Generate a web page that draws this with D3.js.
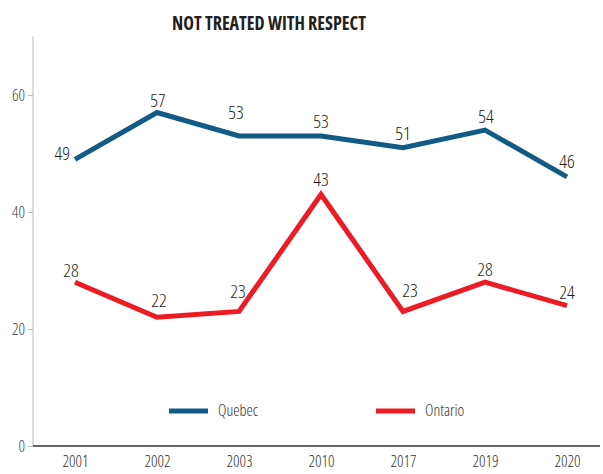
<!DOCTYPE html>
<html>
<head>
<meta charset="utf-8">
<script src="https://cdn.jsdelivr.net/npm/d3@7"></script>
<style>
  body { margin: 0; background: #fff; }
  svg text { font-family: "Open Sans", sans-serif; font-stretch: 75%; }
</style>
</head>
<body>
<div id="chart"></div>
<script>
const years = ["2001", "2002", "2003", "2010", "2017", "2019", "2020"];
const quebec = [49, 57, 53, 53, 51, 54, 46];
const ontario = [28, 22, 23, 43, 23, 28, 24];
const yTicks = [0, 20, 40, 60];

// label nudges (layout only), keyed by series + index
const nudges = {
    "q0": { dx: -5, dy: 1, anchor: "end" },
    "q1": { dx: 1, dy: -6 },
    "q2": { dx: -3, dy: -17 },
    "q3": { dx: 0, dy: -8 },
    "q4": { dx: 0, dy: -8 },
    "q5": { dx: 1, dy: -7 },
    "q6": { dx: 0, dy: -9 },
    "o0": { dx: -4, dy: -5 },
    "o1": { dx: 2, dy: -10 },
    "o2": { dx: -1, dy: -13 },
    "o3": { dx: 0, dy: -8 },
    "o4": { dx: 7, dy: -14 },
    "o5": { dx: 0, dy: -6 },
    "o6": { dx: 0, dy: -7 }
};

const width = 603;
const height = 474;

const svg = d3.select("#chart").append("svg")
              .attr("width", width)
              .attr("height", height);

const x = d3.scalePoint()
            .domain(years)
            .range([75, 567]);

const y = d3.scaleLinear()
            .domain([0, 70])
            .range([446, 36.5]);

// title
svg.append("text")
   .attr("x", 269)
   .attr("y", 30)
   .attr("text-anchor", "middle")
   .attr("font-size", 20)
   .attr("font-weight", "bold")
   .attr("fill", "#231f20")
   .attr("textLength", 194)
   .attr("lengthAdjust", "spacingAndGlyphs")
   .text("NOT TREATED WITH RESPECT");

// y axis
const yAxis = svg.append("g")
                 .attr("transform", "translate(33,0)")
                 .call(d3.axisLeft(y).tickValues(yTicks).tickSize(5).tickPadding(3));

yAxis.select(".domain").attr("stroke", "#cfcfcf").attr("stroke-width", 1.5)
     .attr("d", `M0,${y(70)}V${y(0)}`);
yAxis.selectAll(".tick line").attr("stroke", "#bbb");
yAxis.selectAll(".tick text")
     .attr("font-size", 16)
     .attr("font-weight", 300)
     .attr("fill", "#444")
     .attr("font-family", null);

// x axis
const xAxis = svg.append("g")
                 .attr("transform", `translate(0,${y(0)})`)
                 .call(d3.axisBottom(x).tickSize(0).tickPadding(10));

xAxis.select(".domain").attr("stroke", "#333").attr("stroke-width", 1.5)
     .attr("d", "M33,0H600");
xAxis.selectAll(".tick text")
     .attr("font-size", 16)
     .attr("font-weight", 300)
     .attr("fill", "#333")
     .attr("font-family", null);

const series = [
    { key: "q", name: "Quebec", values: quebec, color: "#115b84" },
    { key: "o", name: "Ontario", values: ontario, color: "#ed1c24" }
];

const line = d3.line()
               .x((d, i) => x(years[i]))
               .y(d => y(d));

series.forEach(s => {
    svg.append("path")
       .datum(s.values)
       .attr("fill", "none")
       .attr("stroke", s.color)
       .attr("stroke-width", 5)
       .attr("stroke-linejoin", "miter")
       .attr("d", line);

    svg.selectAll(`text.lbl-${s.key}`)
       .data(s.values)
       .enter()
       .append("text")
       .attr("class", `lbl-${s.key}`)
       .attr("x", (d, i) => x(years[i]) + nudges[s.key + i].dx)
       .attr("y", (d, i) => y(d) + nudges[s.key + i].dy)
       .attr("text-anchor", (d, i) => nudges[s.key + i].anchor || "middle")
       .attr("font-size", 19)
       .attr("font-weight", 360)
       .attr("fill", "#231f20")
       .text(d => d);
});

// legend
const legend = svg.append("g")
                  .attr("transform", "translate(169,411)");

series.forEach((s, i) => {
    const xPos = i * 207;

    legend.append("line")
          .attr("x1", xPos)
          .attr("x2", xPos + 39)
          .attr("y1", 0)
          .attr("y2", 0)
          .attr("stroke", s.color)
          .attr("stroke-width", 5);

    legend.append("text")
          .attr("x", xPos + 49)
          .attr("y", 5)
          .attr("font-size", 16)
          .attr("font-weight", 300)
          .attr("fill", "#333")
          .text(s.name);
});
</script>
</body>
</html>
